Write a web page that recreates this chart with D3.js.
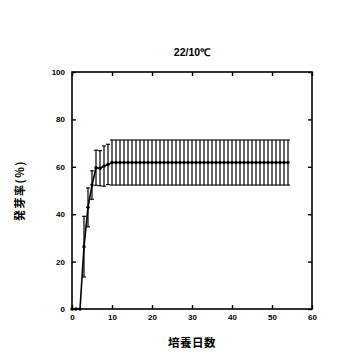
<!DOCTYPE html>
<html><head><meta charset="utf-8">
<script src="https://cdn.jsdelivr.net/npm/d3@7"></script>
<style>body{margin:0;background:#fff}</style>
</head><body>
<svg id="c" width="359" height="356"></svg>
<script>
const days = [0,1,2,3,4,5,6,7,8,9,10,11,12,13,14,15,16,17,18,19,20,21,22,23,24,25,26,27,28,29,30,31,32,33,34,35,36,37,38,39,40,41,42,43,44,45,46,47,48,49,50,51,52,53,54];
const means = [0,0,0,26.3,42.9,52.3,59.6,59.4,60.3,61.0].concat(new Array(45).fill(61.8));
const errors = [0,0,0,12.8,8.2,6.0,7.4,7.4,8.5,8.5].concat(new Array(45).fill(9.5));
const xTicks = [0,10,20,30,40,50,60];
const yTicks = [0,20,40,60,80,100];
const title = "22/10℃";
const xLabel = "培養日数";
const yLabel = "発芽率(%)";

const svg = d3.select("#c");
const L = 72, R = 312, T = 72, B = 309;
const x = d3.scaleLinear().domain([0,60]).range([L,R]);
const y = d3.scaleLinear().domain([0,100]).range([B,T]);
const font = "Arial, 'Liberation Sans', sans-serif";

// frame
svg.append("rect").attr("x",L).attr("y",T).attr("width",R-L).attr("height",B-T)
  .attr("fill","none").attr("stroke","#000").attr("stroke-width",1.6);

const tl = 4;
const ax = (g)=>g.selectAll(".domain").remove();
svg.append("g").attr("transform",`translate(0,${B})`)
  .call(d3.axisBottom(x).tickValues(xTicks).tickSizeInner(-tl).tickSizeOuter(0).tickPadding(5)).call(ax);
svg.append("g").attr("transform",`translate(0,${T})`)
  .call(d3.axisTop(x).tickValues(xTicks).tickSizeInner(-tl).tickSizeOuter(0).tickFormat("")).call(ax);
svg.append("g").attr("transform",`translate(${L},0)`)
  .call(d3.axisLeft(y).tickValues(yTicks).tickSizeInner(-tl).tickSizeOuter(0).tickPadding(7)).call(ax);
svg.append("g").attr("transform",`translate(${R},0)`)
  .call(d3.axisRight(y).tickValues(yTicks).tickSizeInner(-tl).tickSizeOuter(0).tickFormat("")).call(ax);
svg.selectAll(".tick line").attr("stroke","#000").attr("stroke-width",1.4);
svg.selectAll(".tick text").attr("font-family",font).attr("font-weight","bold").attr("font-size",8).attr("fill","#000");

const data = days.map((d,i)=>({d, m:means[i], e:errors[i]}));

// error bars
const eb = svg.append("g").attr("stroke","#000").attr("stroke-width",1.2);
const cw = 1.9;
data.filter(p=>p.e>0).forEach(p=>{
  eb.append("line").attr("x1",x(p.d)).attr("x2",x(p.d)).attr("y1",y(p.m+p.e)).attr("y2",y(p.m-p.e));
  eb.append("line").attr("x1",x(p.d)-cw).attr("x2",x(p.d)+cw).attr("y1",y(p.m+p.e)).attr("y2",y(p.m+p.e));
  eb.append("line").attr("x1",x(p.d)-cw).attr("x2",x(p.d)+cw).attr("y1",y(p.m-p.e)).attr("y2",y(p.m-p.e));
});

// line
svg.append("path").datum(data)
  .attr("d", d3.line().x(p=>x(p.d)).y(p=>y(p.m)))
  .attr("fill","none").attr("stroke","#000").attr("stroke-width",1.6);
svg.append("g").selectAll("circle").data(data).join("circle")
  .attr("cx",p=>x(p.d)).attr("cy",p=>y(p.m)).attr("r",1.7).attr("fill","#000");

// texts
svg.append("text").attr("x",(L+R)/2).attr("y",56).attr("text-anchor","middle")
  .attr("font-family",font).attr("font-weight","bold").attr("font-size",10.5).text(title);
svg.append("text").attr("x",(L+R)/2).attr("y",347).attr("text-anchor","middle")
  .attr("font-family","'Noto Sans CJK JP', sans-serif").attr("font-weight","bold").attr("font-size",11.5)
  .attr("letter-spacing",0.5).text(xLabel);
svg.append("text").attr("transform",`translate(24,${(T+B)/2}) rotate(-90)`).attr("text-anchor","middle")
  .attr("font-family","'Noto Sans CJK JP', sans-serif").attr("font-weight","bold").attr("font-size",11)
  .attr("letter-spacing",1.5).text(yLabel);
</script>
</body></html>
